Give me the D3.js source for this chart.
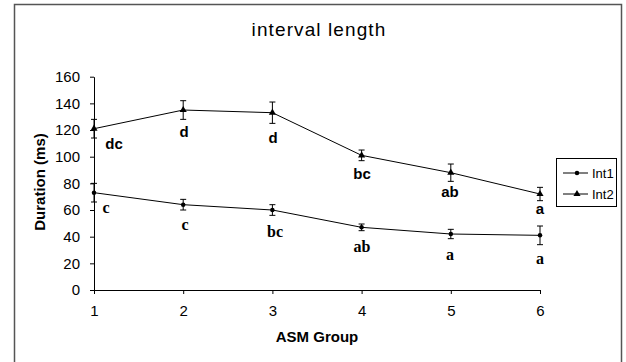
<!DOCTYPE html>
<html><head><meta charset="utf-8">
<script src="https://cdn.jsdelivr.net/npm/d3@7"></script>
<style>body{margin:0;background:#fff}svg{display:block}</style>
</head><body>
<svg id="c" width="626" height="362"></svg>
<script>
const groups = [1, 2, 3, 4, 5, 6];
const int1 = [73, 64, 60, 47, 42, 41];
const int1Err = [7, 4, 4, 2.5, 3.5, 7];
const int1Labels = ["c", "c", "bc", "ab", "a", "a"];
const int2 = [121, 135, 133, 101, 88, 72];
const int2Err = [7, 7, 8, 4, 6.5, 5];
const int2Labels = ["dc", "d", "d", "bc", "ab", "a"];
const yTicks = [0, 20, 40, 60, 80, 100, 120, 140, 160];

const svg = d3.select("#c");
const x = d3.scaleLinear().domain([1, 6]).range([94, 540]);
const y = d3.scaleLinear().domain([0, 160]).range([290, 76.7]);
const sans = "Liberation Sans, Arial, sans-serif";
const serif = "Liberation Serif, Times New Roman, serif";

// outer frame
svg.append("rect").attr("x", 14.5).attr("y", 4.5).attr("width", 607).attr("height", 370)
  .attr("fill", "none").attr("stroke", "#555").attr("stroke-width", 1.5);

svg.append("text").attr("x", 319).attr("y", 36).attr("text-anchor", "middle")
  .attr("font-family", sans).attr("font-size", 19).attr("letter-spacing", 1.1).text("interval length");

const yAxis = svg.append("g").attr("transform", "translate(94,0)")
  .call(d3.axisLeft(y).tickValues(yTicks).tickSize(4).tickPadding(10).tickSizeOuter(0));
const xAxis = svg.append("g").attr("transform", "translate(0,290)")
  .call(d3.axisBottom(x).tickValues(groups).tickFormat(d3.format("d")).tickSize(4).tickPadding(11).tickSizeOuter(0));
[yAxis, xAxis].forEach(g => {
  g.selectAll("path,line").attr("stroke", "#000").attr("stroke-width", 1);
  g.selectAll("text").attr("font-family", sans).attr("font-size", 15).attr("fill", "#000");
});

svg.append("text").attr("transform", "translate(45,182) rotate(-90)").attr("text-anchor", "middle")
  .attr("font-family", sans).attr("font-weight", "bold").attr("font-size", 15).text("Duration (ms)");
svg.append("text").attr("x", 317).attr("y", 342).attr("text-anchor", "middle")
  .attr("font-family", sans).attr("font-weight", "bold").attr("font-size", 15).text("ASM Group");

const line = d3.line().x((d, i) => x(groups[i])).y(d => y(d));
function series(vals, errs, marker) {
  const g = svg.append("g");
  g.append("path").datum(vals).attr("d", line).attr("fill", "none").attr("stroke", "#000").attr("stroke-width", 1);
  vals.forEach((v, i) => {
    const cx = x(groups[i]);
    g.append("line").attr("x1", cx).attr("x2", cx).attr("y1", y(v - errs[i])).attr("y2", y(v + errs[i])).attr("stroke", "#000");
    [v - errs[i], v + errs[i]].forEach(e => g.append("line").attr("x1", cx - 3).attr("x2", cx + 3).attr("y1", y(e)).attr("y2", y(e)).attr("stroke", "#000"));
    g.append("path").attr("transform", `translate(${cx},${y(v)})`)
      .attr("d", d3.symbol().type(marker).size(marker === d3.symbolCircle ? 16 : 22)).attr("fill", "#000");
  });
}
series(int1, int1Err, d3.symbolCircle);
series(int2, int2Err, d3.symbolTriangle);

// letter labels
const int2Pos = [[114, 149], [184, 137], [273, 143], [362, 179], [450, 197], [540, 214]];
int2Labels.forEach((t, i) => svg.append("text").attr("x", int2Pos[i][0]).attr("y", int2Pos[i][1]).attr("text-anchor", "middle")
  .attr("font-family", sans).attr("font-weight", "bold").attr("font-size", 15).text(t));
const int1Pos = [[106, 213], [185, 230], [275, 237], [362, 252], [450, 260], [540, 264]];
int1Labels.forEach((t, i) => svg.append("text").attr("x", int1Pos[i][0]).attr("y", int1Pos[i][1]).attr("text-anchor", "middle")
  .attr("font-family", serif).attr("font-weight", "bold").attr("font-size", 16).text(t));

// legend
const lg = svg.append("g");
lg.append("rect").attr("x", 556.5).attr("y", 158.5).attr("width", 60).attr("height", 48).attr("fill", "#fff").attr("stroke", "#000");
[["Int1", d3.symbolCircle, 173], ["Int2", d3.symbolTriangle, 194]].forEach(([name, m, ly]) => {
  lg.append("line").attr("x1", 563).attr("x2", 588).attr("y1", ly).attr("y2", ly).attr("stroke", "#000");
  lg.append("path").attr("transform", `translate(577,${ly})`).attr("d", d3.symbol().type(m).size(m === d3.symbolCircle ? 16 : 22)).attr("fill", "#000");
  lg.append("text").attr("x", 592).attr("y", ly + 5).attr("font-family", sans).attr("font-size", 13).text(name);
});
</script>
</body></html>
